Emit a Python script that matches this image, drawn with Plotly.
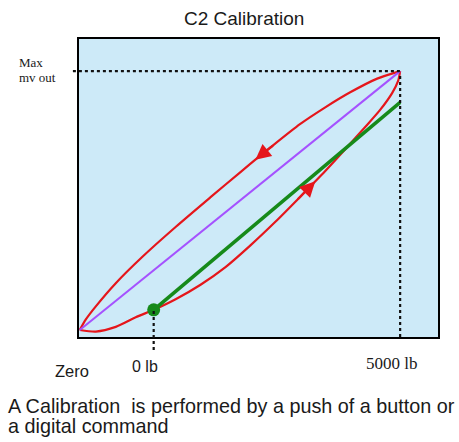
import numpy as np
import plotly.graph_objects as go

# ---- data (load in lb, output as fraction of max mV out) ----
upper_x = [-1500, -1376, -1174, -769, -223, 445, 1154, 1761, 2368, 2975, 3481, 3987, 4534, 5000]
upper_y = [0.0, 0.041, 0.0915, 0.181, 0.284, 0.398, 0.513, 0.610, 0.705, 0.796, 0.860, 0.918, 0.971, 1.0]

lower_x = [-1500, -1174, -769, -364, 0, 445, 951, 1457, 1963, 2469, 2975, 3481, 3886, 4291, 4594, 4837, 4959, 5000]
lower_y = [0.0, -0.006, 0.012, 0.049, 0.078, 0.119, 0.175, 0.243, 0.327, 0.418, 0.515, 0.614, 0.698, 0.784, 0.850, 0.915, 0.962, 1.0]

ideal_x = [-1500, 5000]
ideal_y = [0.0, 1.0]

cal_x = [0, 5000]
cal_y = [0.078, 0.879]

zero_load = 0
full_load = 5000
max_out = 1.0

title = "C2 Calibration"
caption1 = "A Calibration  is performed by a push of a button or"
caption2 = "a digital command"

RED = "#e5161b"
PURPLE = "#a552ff"
GREEN = "#168a1a"

fig = go.Figure()
fig.add_trace(go.Scatter(x=upper_x, y=upper_y, mode="lines",
                         line=dict(color=RED, width=2.2, shape="spline", smoothing=0.7)))
fig.add_trace(go.Scatter(x=lower_x, y=lower_y, mode="lines",
                         line=dict(color=RED, width=2.2, shape="spline", smoothing=0.7)))
fig.add_trace(go.Scatter(x=ideal_x, y=ideal_y, mode="lines",
                         line=dict(color=PURPLE, width=2)))
fig.add_trace(go.Scatter(x=cal_x, y=cal_y, mode="lines",
                         line=dict(color=GREEN, width=3.5)))
fig.add_trace(go.Scatter(x=[cal_x[0]], y=[cal_y[0]], mode="markers",
                         marker=dict(color=GREEN, size=13)))

# dotted guide lines
dot = dict(color="#111111", width=2.2, dash="dot")
fig.add_shape(type="line", xref="paper", yref="y", x0=-0.017, x1=(400 - 79) / 359,
              y0=max_out, y1=max_out, line=dot)
fig.add_shape(type="line", xref="x", yref="paper", x0=full_load, x1=full_load,
              y0=0, y1=(337 - 73) / 298, line=dot)
fig.add_shape(type="line", xref="x", yref="paper", x0=zero_load, x1=zero_load,
              y0=-0.044, y1=(337 - 310) / 298, line=dot)

# direction arrows along the loop
def arrow(xs, ys, x_tip, x_tail):
    yt = float(np.interp(x_tip, xs, ys))
    ya = float(np.interp(x_tail, xs, ys))
    fig.add_annotation(x=x_tip, y=yt, ax=x_tail, ay=ya, xref="x", yref="y",
                       axref="x", ayref="y", showarrow=True, arrowhead=2,
                       arrowsize=1.4, arrowwidth=2.2, arrowcolor=RED, text="")

arrow(upper_x, upper_y, 2064, 2449)
arrow(lower_x, lower_y, 3279, 2894)

def ptext(txt, px, py, size, family, anchor="left"):
    fig.add_annotation(x=(px - 79) / 359, y=(337 - py) / 298, xref="paper", yref="paper",
                       text=txt, showarrow=False, xanchor=anchor, yanchor="middle",
                       font=dict(size=size, family=family, color="#1a1a1a"))

ptext(title, 243.5, 18, 19, "Liberation Sans, Arial", "center")
ptext("Max", 17, 62, 13, "Liberation Serif, Times New Roman")
ptext("mv out", 17, 77, 13, "Liberation Serif, Times New Roman")
ptext("Zero", 53, 371, 16.5, "Liberation Sans, Arial")
ptext("0 lb", 130, 366, 16, "Liberation Sans, Arial")
ptext("5000 lb", 364, 363, 17, "Liberation Serif, Times New Roman")
ptext(caption1, 6, 406, 19.8, "Liberation Sans, Arial")
ptext(caption2, 6, 426, 19.8, "Liberation Sans, Arial")

fig.update_layout(
    width=459, height=442,
    margin=dict(l=79, r=21, t=39, b=105),
    paper_bgcolor="white", plot_bgcolor="#cdeaf8",
    showlegend=False,
    xaxis=dict(range=[-1515, 5768], showticklabels=False, showgrid=False, zeroline=False,
               showline=True, mirror=True, linecolor="black", linewidth=2, ticks=""),
    yaxis=dict(range=[-0.027, 1.124], showticklabels=False, showgrid=False, zeroline=False,
               showline=True, mirror=True, linecolor="black", linewidth=2, ticks=""),
)

fig.write_html("out.html", config={"displayModeBar": False},
               post_script="document.body.style.margin='0px';document.body.style.overflow='hidden';")
